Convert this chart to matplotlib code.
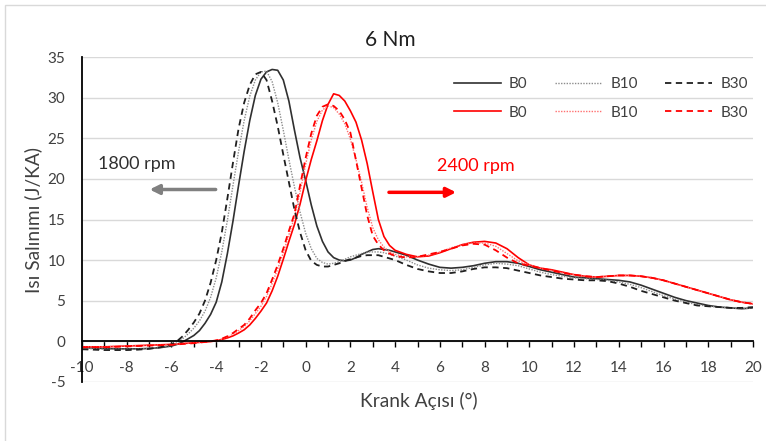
import matplotlib
matplotlib.use('Agg')
from matplotlib import pyplot as plt
from matplotlib.patches import Rectangle
from matplotlib.ticker import MultipleLocator

plt.rcParams['font.family'] = ['Lato', 'DejaVu Sans']
plt.rcParams['axes.unicode_minus'] = False

# crank angle samples (deg)
angle = [-10, -9.5, -9, -8.5, -8, -7.5, -7, -6.5,
         -6, -5.75, -5.5, -5.25, -5, -4.75, -4.5, -4.25, -4, -3.75, -3.5, -3.25,
         -3, -2.75, -2.5, -2.25, -2, -1.75, -1.5, -1.25, -1, -0.75, -0.5, -0.25,
         0, 0.25, 0.5, 0.75, 1, 1.25, 1.5, 1.75, 2, 2.25, 2.5, 2.75, 3, 3.25,
         3.5, 3.75, 4,
         4.5, 5, 5.5, 6, 6.5, 7, 7.5, 8, 8.5, 9, 9.5, 10, 10.5, 11, 11.5, 12,
         12.5, 13, 13.5, 14, 14.5, 15, 15.5, 16, 16.5, 17, 17.5, 18, 18.5, 19,
         19.5, 20]

# 1800 rpm
b0_1800 = [-0.8, -0.85, -0.9, -0.95, -0.95, -0.95, -0.9, -0.8,
           -0.6, -0.4, -0.1, 0.3, 0.7, 1.3, 2.2, 3.3, 4.8, 7.3, 10.8, 14.8,
           19.2, 23.4, 27.2, 30.3, 32.3, 33.2, 33.5, 33.4, 32.2, 29.6, 26.0, 22.6,
           19.8, 16.8, 14.2, 12.3, 11.0, 10.3, 10.0, 9.9, 10.0, 10.3, 10.7, 11.0, 11.3, 11.4,
           11.3, 11.2, 11.0,
           10.6, 10.0, 9.5, 9.1, 9.0, 9.1, 9.3, 9.6, 9.8, 9.8, 9.6, 9.2, 8.8, 8.5, 8.2, 7.9,
           7.8, 7.7, 7.6, 7.5, 7.3, 6.9, 6.4, 5.9, 5.4, 5.0, 4.7, 4.4, 4.2, 4.1,
           4.0, 4.1]
b10_1800 = [-0.9, -0.95, -1.0, -1.0, -1.0, -1.0, -0.9, -0.75,
            -0.5, -0.2, 0.3, 0.9, 1.6, 2.5, 3.7, 5.4, 7.8, 11.0, 14.9, 19.2,
            23.4, 27.2, 30.2, 32.2, 33.2, 33.3, 32.0, 29.4, 26.0, 22.4, 19.0, 15.9,
            13.3, 11.4, 10.2, 9.7, 9.5, 9.6, 9.8, 10.1, 10.4, 10.6, 10.8, 11.0, 11.0, 11.0,
            10.9, 10.7, 10.5,
            10.0, 9.4, 9.0, 8.8, 8.7, 8.8, 9.1, 9.4, 9.6, 9.5, 9.3, 8.9, 8.5, 8.2, 8.0, 7.8,
            7.7, 7.6, 7.5, 7.3, 7.0, 6.6, 6.1, 5.6, 5.2, 4.8, 4.5, 4.3, 4.2, 4.1,
            4.0, 4.1]
b30_1800 = [-1.0, -1.05, -1.1, -1.1, -1.1, -1.05, -0.95, -0.75,
            -0.4, 0.0, 0.6, 1.4, 2.3, 3.4, 5.0, 7.2, 10.0, 13.4, 17.6, 22.0,
            26.2, 29.4, 31.6, 32.9, 33.2, 32.2, 29.6, 26.5, 23.0, 19.6, 16.2, 13.4,
            11.2, 9.9, 9.4, 9.2, 9.2, 9.4, 9.6, 9.9, 10.1, 10.3, 10.5, 10.6, 10.6, 10.6,
            10.4, 10.2, 10.0,
            9.4, 8.9, 8.6, 8.4, 8.4, 8.6, 8.9, 9.1, 9.1, 9.0, 8.7, 8.4, 8.1, 7.9, 7.7, 7.6,
            7.5, 7.5, 7.4, 7.1, 6.7, 6.2, 5.8, 5.4, 5.0, 4.7, 4.4, 4.3, 4.2, 4.1,
            4.1, 4.2]

# 2400 rpm
b0_2400 = [-0.7, -0.7, -0.7, -0.65, -0.6, -0.55, -0.5, -0.45,
           -0.4, -0.35, -0.3, -0.25, -0.2, -0.15, -0.1, -0.05, 0.05, 0.2, 0.4, 0.65,
           1.0, 1.4, 2.0, 2.8, 3.7, 4.7, 6.2, 8.0, 10.1, 12.3, 14.4, 16.9,
           19.8, 22.4, 24.7, 27.2, 29.2, 30.5, 30.3, 29.6, 28.4, 27.0, 24.8, 21.9, 18.4, 15.0,
           12.9, 11.8, 11.2,
           10.7, 10.4, 10.5, 10.9, 11.4, 11.9, 12.2, 12.3, 12.1, 11.4, 10.3, 9.4, 9.0, 8.8, 8.5, 8.2,
           8.0, 7.9, 8.0, 8.1, 8.1, 8.0, 7.8, 7.5, 7.1, 6.7, 6.3, 5.9, 5.5, 5.1,
           4.8, 4.6]
b10_2400 = [-0.7, -0.7, -0.7, -0.65, -0.6, -0.55, -0.5, -0.45,
            -0.4, -0.35, -0.3, -0.25, -0.2, -0.15, -0.1, -0.03, 0.1, 0.25, 0.5, 0.85,
            1.3, 1.8, 2.5, 3.4, 4.3, 5.5, 7.1, 8.9, 10.9, 13.1, 15.3, 18.4,
            21.8, 24.8, 27.1, 28.5, 29.0, 28.8, 28.0, 26.8, 24.9, 22.4, 19.6, 16.5, 14.0, 12.5,
            11.6, 11.0, 10.7,
            10.4, 10.4, 10.6, 11.0, 11.5, 11.9, 12.1, 12.1, 11.7, 10.8, 9.9, 9.4, 9.0, 8.7, 8.4, 8.2,
            8.0, 7.9, 8.0, 8.1, 8.1, 8.0, 7.8, 7.5, 7.1, 6.7, 6.3, 5.9, 5.5, 5.1,
            4.8, 4.6]
b30_2400 = [-0.75, -0.75, -0.75, -0.7, -0.65, -0.6, -0.55, -0.5,
            -0.45, -0.4, -0.35, -0.3, -0.25, -0.18, -0.1, -0.02, 0.1, 0.3, 0.6, 1.0,
            1.5, 2.0, 2.8, 3.8, 4.7, 5.9, 7.6, 9.4, 11.4, 13.6, 15.7, 19.2,
            22.6, 25.6, 27.8, 28.9, 29.2, 29.0, 28.4, 27.3, 25.7, 22.3, 18.9, 15.5, 13.0, 11.9,
            11.2, 10.8, 10.5,
            10.3, 10.4, 10.7, 11.0, 11.4, 11.8, 12.0, 11.9, 11.2, 10.3, 9.6, 9.3, 9.0, 8.7, 8.4, 8.2,
            8.0, 7.9, 8.0, 8.1, 8.1, 8.0, 7.8, 7.5, 7.1, 6.7, 6.3, 5.9, 5.5, 5.1,
            4.8, 4.6]

fig = plt.figure(figsize=(7.66, 4.41), dpi=100)
ax = fig.add_axes([82/766, 1 - 381.7/441, (753 - 82)/766, (381.7 - 57.3)/441])

# light chart-area border like the Excel export
fig.patches.append(Rectangle((5/766, -0.2), 2, 1.2 - 5/441, transform=fig.transFigure,
                             fill=False, edgecolor='#d9d9d9', linewidth=1, zorder=0))

ax.plot(angle, b0_1800, color='#303030', lw=1.2, label='B0')
ax.plot(angle, b0_2400, color='#ff0000', lw=1.2, label='B0')
ax.plot(angle, b10_1800, color='#8c8c8c', lw=1.0, ls=(0, (1, 1)), label='B10')
ax.plot(angle, b10_2400, color='#ff7070', lw=1.0, ls=(0, (1, 1)), label='B10')
ax.plot(angle, b30_1800, color='#202020', lw=1.3, ls=(0, (3.5, 2.5)), label='B30')
ax.plot(angle, b30_2400, color='#ff0000', lw=1.3, ls=(0, (3.5, 2.5)), label='B30')

ax.set_xlim(-10, 20)
ax.set_ylim(-5, 35)
ax.yaxis.set_major_locator(MultipleLocator(5))
ax.xaxis.set_major_locator(MultipleLocator(2))
ax.xaxis.set_minor_locator(MultipleLocator(1))
ax.grid(axis='y', color='#d9d9d9', lw=1)
ax.set_axisbelow(True)

for s in ['top', 'right']:
    ax.spines[s].set_visible(False)
ax.spines['bottom'].set_position(('data', 0))
ax.spines['bottom'].set_linewidth(1.3)
ax.spines['left'].set_linewidth(1.3)
ax.tick_params(axis='x', which='both', direction='out', length=4, width=1,
               labelsize=11, labelcolor='#404040', pad=10)
ax.tick_params(axis='y', length=0, labelsize=11, labelcolor='#404040', pad=12)

fig.text(390/766, 1 - 40/441, '6 Nm', ha='center', va='center', fontsize=15, color='#202020')
fig.text(33/766, 1 - 220/441, 'Isı Salınımı (J/KA)', rotation=90, ha='center', va='center',
         fontsize=13.8, color='#404040')
fig.text(418.5/766, 1 - 401/441, 'Krank Açısı (°)', ha='center', va='center',
         fontsize=13.8, color='#404040')

ax.text(-7.56, 21.9, '1800 rpm', ha='center', va='center', fontsize=13, color='#303030')
ax.annotate('', xy=(-7.1, 18.7), xytext=(-3.9, 18.7),
            arrowprops=dict(arrowstyle='-|>', color='#808080', lw=2.5, mutation_scale=14))
ax.text(7.6, 21.55, '2400 rpm', ha='center', va='center', fontsize=13, color='#ff0000')
ax.annotate('', xy=(6.85, 18.35), xytext=(3.6, 18.35),
            arrowprops=dict(arrowstyle='-|>', color='#ff0000', lw=2.5, mutation_scale=14))

ax.legend(ncol=3, loc='upper left', bbox_to_anchor=(454/766, 1 - 77/441),
          bbox_transform=fig.transFigure, frameon=False, fontsize=11,
          handlelength=3.1, handletextpad=0.5, columnspacing=1.8,
          labelspacing=0.95, borderpad=0, borderaxespad=0, labelcolor='#404040')

fig.savefig('out.png', dpi=100)
